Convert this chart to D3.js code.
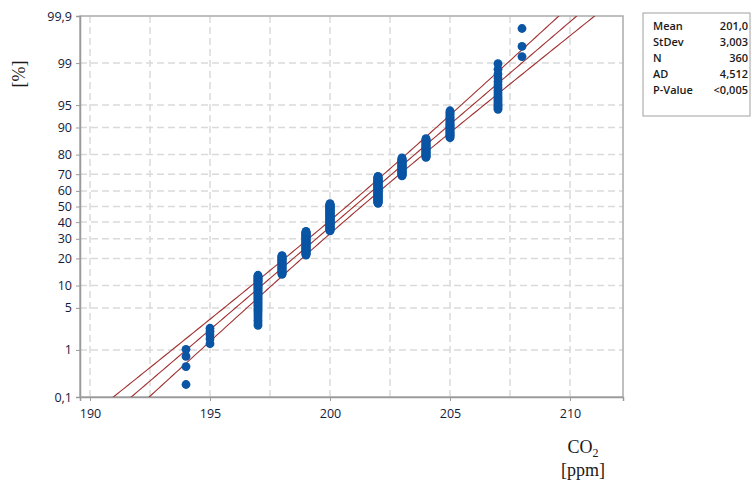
<!DOCTYPE html>
<html>
<head>
<meta charset="utf-8">
<script src="https://cdn.jsdelivr.net/npm/d3@7"></script>
<style>
  body { margin: 0; background: #fff; }
  svg { display: block; }
  .tick text { font-family: "Open Sans", "Noto Sans", sans-serif; font-size: 12.5px; fill: #141a3a; }
  .axistitle { font-family: "Liberation Serif", "DejaVu Serif", serif; font-size: 18px; fill: #1a1a1a; }
  .stat { font-family: "Open Sans", "Noto Sans", sans-serif; font-size: 11px; font-weight: 600; fill: #1a1a1a; }
</style>
</head>
<body>
<svg id="chart" width="752" height="484"></svg>
<script>
// CO2 readings (ppm) and how many of the 360 samples had each value
var co2Values = [194, 195, 197, 198, 199, 200, 202, 203, 204, 205, 207, 208];
var co2Counts = [4, 5, 39, 29, 47, 63, 61, 35, 29, 27, 18, 3];

var yTickPct = [0.1, 1, 5, 10, 20, 30, 40, 50, 60, 70, 80, 90, 95, 99, 99.9];
var yGridPct = [1, 5, 10, 20, 30, 40, 50, 60, 70, 80, 90, 95, 99];
var xTicks = [190, 195, 200, 205, 210];
var xGrid = [190, 192.5, 195, 197.5, 200, 202.5, 205, 207.5, 210];

var statNames = ["Mean", "StDev", "N", "AD", "P-Value"];
var statTexts = ["201,0", "3,003", "360", "4,512", "<0,005"];
var fitMean = 201.0, fitSd = 3.003, fitN = 360;

var plotL = 80, plotR = 623, plotT = 16, plotB = 397;

// inverse normal cdf (Acklam)
function probit(p) {
    var a = [-3.969683028665376e+01, 2.209460984245205e+02, -2.759285104469687e+02, 1.383577518672690e+02, -3.066479806614716e+01, 2.506628277459239e+00];
    var b = [-5.447609879822406e+01, 1.615858368580409e+02, -1.556989798598866e+02, 6.680131188771972e+01, -1.328068155288572e+01];
    var c = [-7.784894002430293e-03, -3.223964580411365e-01, -2.400758277161838e+00, -2.549732539343734e+00, 4.374664141464968e+00, 2.938163982698783e+00];
    var d = [7.784695709041462e-03, 3.224671290700398e-01, 2.445134137142996e+00, 3.754408661907416e+00];
    var q, r;
    if (p < 0.02425) {
        q = Math.sqrt(-2 * Math.log(p));
        return (((((c[0]*q+c[1])*q+c[2])*q+c[3])*q+c[4])*q+c[5]) / ((((d[0]*q+d[1])*q+d[2])*q+d[3])*q+1);
    }
    if (p > 1 - 0.02425) {
        q = Math.sqrt(-2 * Math.log(1 - p));
        return -(((((c[0]*q+c[1])*q+c[2])*q+c[3])*q+c[4])*q+c[5]) / ((((d[0]*q+d[1])*q+d[2])*q+d[3])*q+1);
    }
    q = p - 0.5; r = q * q;
    return (((((a[0]*r+a[1])*r+a[2])*r+a[3])*r+a[4])*r+a[5])*q / (((((b[0]*r+b[1])*r+b[2])*r+b[3])*r+b[4])*r+1);
}

var x = d3.scaleLinear().domain([190 - 10 / 24, 190 + 533 / 24]).range([plotL, plotR]);
var yz = d3.scaleLinear().domain([probit(0.001), probit(0.999)]).range([plotB, plotT]);
function y(pct) { return yz(probit(pct / 100)); }

var svg = d3.select("#chart");

svg.append("clipPath").attr("id", "plotclip")
    .append("rect")
    .attr("x", plotL).attr("y", plotT)
    .attr("width", plotR - plotL).attr("height", plotB - plotT);

// grid
var grid = svg.append("g")
    .attr("stroke", "#dadada").attr("stroke-width", 1.5).attr("stroke-dasharray", "7,4");
grid.selectAll("line.h").data(yGridPct).enter().append("line")
    .attr("x1", plotL).attr("x2", plotR)
    .attr("y1", function(d) { return y(d); }).attr("y2", function(d) { return y(d); });
grid.selectAll("line.v").data(xGrid).enter().append("line")
    .attr("y1", plotT).attr("y2", plotB)
    .attr("x1", function(d) { return x(d); }).attr("x2", function(d) { return x(d); });

svg.append("rect")
    .attr("x", plotL).attr("y", plotT)
    .attr("width", plotR - plotL).attr("height", plotB - plotT)
    .attr("fill", "none").attr("stroke", "#ababab").attr("stroke-width", 1.5);

// axes
svg.append("g")
    .attr("transform", "translate(0," + plotB + ")")
    .call(d3.axisBottom(x).tickValues(xTicks).tickSize(4).tickPadding(8));
svg.append("g")
    .attr("transform", "translate(" + plotL + ",0)")
    .call(d3.axisLeft(yz).tickValues(yTickPct.map(function(p) { return probit(p / 100); }))
        .tickFormat(function(d, i) { return String(yTickPct[i]).replace(".", ","); })
        .tickSize(4).tickPadding(4));
svg.selectAll(".domain").attr("stroke", "#9a9a9a").attr("stroke-width", 1.5);
svg.selectAll(".tick line").attr("stroke", "#9a9a9a");

// fitted line and 95% confidence band
var zs = d3.range(-3.3, 3.31, 0.05);
function band(k) {
    return zs.map(function(z) {
        var se = fitSd / Math.sqrt(fitN) * Math.sqrt(1 + z * z / 2);
        return [fitMean + z * fitSd + k * 1.96 * se, z];
    });
}
var line = d3.line()
    .x(function(d) { return x(d[0]); })
    .y(function(d) { return yz(d[1]); });
svg.append("g").attr("clip-path", "url(#plotclip)")
    .selectAll("path").data([band(-1), band(0), band(1)]).enter().append("path")
    .attr("d", line)
    .attr("fill", "none").attr("stroke", "#a0302f").attr("stroke-width", 1.1);

// points at median-rank plotting positions
var points = [];
co2Values.forEach(function(v, j) {
    for (var k = 0; k < co2Counts[j]; k++) points.push(v);
});
var n = points.length;
svg.append("g").selectAll("circle").data(points).enter().append("circle")
    .attr("cx", function(d) { return x(d); })
    .attr("cy", function(d, i) { return yz(probit((i + 1 - 0.3) / (n + 0.4))); })
    .attr("r", 4.4)
    .attr("fill", "#0a55a4");

// axis titles
svg.append("text").attr("class", "axistitle")
    .attr("text-anchor", "middle")
    .attr("transform", "translate(25,74) rotate(-90)")
    .text("[%]");
var co2 = svg.append("text").attr("class", "axistitle")
    .attr("x", 583).attr("y", 453).attr("text-anchor", "middle");
co2.append("tspan").text("CO");
co2.append("tspan").attr("font-size", "12px").attr("dy", 4).text("2");
svg.append("text").attr("class", "axistitle")
    .attr("x", 583).attr("y", 476).attr("text-anchor", "middle")
    .text("[ppm]");

// stats box
svg.append("rect")
    .attr("x", 643).attr("y", 13).attr("width", 107).attr("height", 103)
    .attr("fill", "#fff").attr("stroke", "#a0a0a0").attr("stroke-width", 1);
var stats = svg.append("g");
stats.selectAll("text.name").data(statNames).enter().append("text")
    .attr("class", "stat")
    .attr("x", 653).attr("y", function(d, i) { return 30 + i * 16; })
    .text(function(d) { return d; });
stats.selectAll("text.val").data(statTexts).enter().append("text")
    .attr("class", "stat").attr("text-anchor", "end")
    .attr("x", 748).attr("y", function(d, i) { return 30 + i * 16; })
    .text(function(d) { return d; });
</script>
</body>
</html>
